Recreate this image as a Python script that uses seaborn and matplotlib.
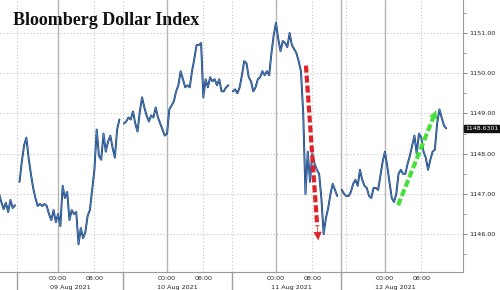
import numpy as np
import pandas as pd
import matplotlib
matplotlib.use("Agg")
import matplotlib.pyplot as plt
import matplotlib.transforms as mtransforms
import seaborn as sns

# ---------------- data ----------------
TITLE = "Bloomberg Dollar Index"
START = "2021-08-08 11:00"          # first sample, 30-minute bars
# index level, one reading per 30 minutes (NaN = gap in the feed)
values = [
    1147.0, 1146.8, 1146.62, 1146.78, 1146.55, 1146.85, 1146.65, 1146.72, np.nan, 1147.3,
    1147.8, 1148.2, 1148.4, 1147.9, 1147.5, 1147.15, 1146.9, 1146.7, 1146.75, 1146.7,
    1146.75, 1146.7, 1146.5, 1146.35, 1146.6, 1146.3, 1146.5, 1146.2, 1147.2, 1146.9,
    1147.05, 1146.35, 1146.6, 1146.5, 1146.55, 1145.75, 1146.15, 1145.9, 1146.05, 1146.45,
    1146.6, 1147.1, 1147.6, 1148.6, 1147.95, 1147.85, 1148.5, 1148.05, 1148.3, 1148.45,
    1148.15, 1147.9, 1148.6, 1148.85, np.nan, 1148.75, 1148.8, 1148.9, 1148.85, 1149.05,
    1148.75, 1148.55, 1149.05, 1149.4, 1149.15, 1148.95, 1148.8, 1148.95, 1148.9, 1149.15,
    1148.9, 1148.75, 1148.6, 1148.45, 1148.5, 1149.1, 1149.2, 1149.3, 1149.55, 1149.7,
    1150.05, 1149.85, 1149.65, 1149.7, 1149.65, 1150.05, 1150.35, 1150.7, 1150.7, 1150.75,
    1149.4, 1149.85, 1149.65, 1149.9, 1149.8, 1149.85, 1149.7, 1149.85, 1149.55, 1149.55,
    1149.65, 1149.7, np.nan, 1149.55, 1149.6, 1149.5, 1149.65, 1149.95, 1150.3, 1150.25,
    1149.9, 1149.8, 1149.55, 1149.65, 1149.85, 1149.9, 1150.05, 1149.95, 1150.05, 1149.95,
    1150.5, 1150.95, 1151.25, 1150.85, 1150.55, 1150.8, 1150.75, 1150.65, 1151.0, 1150.7,
    1150.6, 1150.5, 1150.3, 1150.05, 1149.0, 1147.0, 1148.05, 1147.3, 1148.0, 1147.75,
    1147.6, 1147.5, 1146.9, 1146.0, 1146.4, 1146.65, 1147.0, 1147.25, 1147.1, 1146.95,
    np.nan, 1147.1, 1147.0, 1146.95, 1146.95, 1147.05, 1147.25, 1147.35, 1147.2, 1147.6,
    1147.35, 1147.2, 1147.15, 1146.95, 1146.9, 1147.15, 1147.15, 1147.1, 1147.45, 1147.8,
    1148.05, 1147.7, 1147.3, 1146.9, 1146.8, 1147.0, 1147.5, 1147.6, 1147.5, 1147.5,
    1147.75, 1147.95, 1148.2, 1148.45, 1148.0, 1148.5, 1148.4, 1148.05, 1147.9, 1147.6,
    1147.85, 1148.05, 1148.1, 1148.75, 1149.1, 1148.9, 1148.7, 1148.63,
]
last_value = 1148.6301
y_ticks = [1146, 1147, 1148, 1149, 1150, 1151]
time_tick_labels = ["00:00", "08:00"]
time_tick_hours = [0, 8]                 # hour of day
day_labels = ["09 Aug 2021", "10 Aug 2021", "11 Aug 2021", "12 Aug 2021"]
day_label_hours = [2.6, 26.2, 51.5, 74.4]   # hours since 09 Aug 00:00
separator_hours = [-9.0, 14.3, 38.3, 62.3]
# annotation arrows: (hours, level) start -> end
red_arrow = [(54.6, 1150.19), (57.3, 1145.85)]
green_arrow = [(74.9, 1146.72), (83.3, 1149.08)]

# ---------------- frame ----------------
t0 = pd.Timestamp("2021-08-09 00:00")
times = pd.date_range(START, periods=len(values), freq="30min")
hours = (times - t0) / pd.Timedelta(hours=1)
df = pd.DataFrame({"hours": hours, "level": values})
df["seg"] = df["level"].isna().cumsum()
df = df.dropna()

sns.set_style("white")
plt.rcParams["font.family"] = ["DejaVu Sans"]

fig = plt.figure(figsize=(5, 2.9), dpi=100)
ax = fig.add_axes([0, 18 / 290, 463 / 500, 272 / 290])

ax.set_xlim(-12.8, 89.2)
ax.set_ylim(1145.06, 1151.82)

DOT = (0, (1.0, 2.0))
# grid
for y in y_ticks:
    ax.axhline(y, color="#c4c4c4", lw=0.8, ls=DOT, zorder=0)
for d in range(4):
    ax.axvline(24 * d, color="#b4b4b4", lw=1.0, zorder=0)
    ax.axvline(24 * d + 8, color="#c4c4c4", lw=0.8, ls=DOT, zorder=0)
for i, s in enumerate(separator_hours):
    if i < 3:
        ax.axvline(s, color="#c4c4c4", lw=0.8, ls=DOT, zorder=0)
    else:
        ax.axvline(s, color="#b4b4b4", lw=1.0, zorder=0)
        ax.axvline(s + 1.2, color="#c4c4c4", lw=0.8, ls=DOT, zorder=0)
    ax.axvline(s, ymin=-18 / 272, ymax=0, color="#a0a0a0", lw=1.0, clip_on=False)

# series
sns.lineplot(data=df, x="hours", y="level", units="seg", estimator=None,
             color="#1f3d6e", lw=1.4, ax=ax, zorder=3)
sns.lineplot(data=df, x="hours", y="level", units="seg", estimator=None,
             color="#4f8fd6", lw=0.5, ax=ax, zorder=4)

# arrows
def dashed_arrow(pts, color):
    (x0, y0), (x1, y1) = pts
    fx = x0 + (x1 - x0) * 0.92
    fy = y0 + (y1 - y0) * 0.92
    ax.plot([x0, fx], [y0, fy], color=color, lw=3.0, ls=(0, (1.7, 0.7)),
            solid_capstyle="butt", zorder=6)
    ax.annotate("", xy=(x1, y1), xytext=(fx, fy),
                arrowprops=dict(arrowstyle="-|>", color=color, lw=0.5,
                                mutation_scale=13, shrinkA=0, shrinkB=0),
                zorder=6)

dashed_arrow(red_arrow, "#e0232b")
dashed_arrow(green_arrow, "#47e03a")

# axes styling
for sp in ["left", "top"]:
    ax.spines[sp].set_visible(False)
ax.spines["right"].set_color("#9a9a9a")
ax.spines["bottom"].set_color("#9a9a9a")
ax.spines["right"].set_linewidth(0.8)
ax.spines["bottom"].set_linewidth(0.8)

ax.yaxis.tick_right()
ax.set_yticks(y_ticks)
ax.set_yticklabels([f"{v:.2f}" for v in y_ticks], fontsize=4.6, color="#222222")
ax.set_yticks([v + 0.5 for v in [1145] + y_ticks], minor=True)
ax.tick_params(axis="y", which="major", length=3, width=0.6, color="#777777", pad=1.5)
ax.tick_params(axis="y", which="minor", length=2, width=0.5, color="#777777", right=True)

xt = [24 * d + h for d in range(4) for h in time_tick_hours]
ax.set_xticks(xt)
ax.set_xticklabels([time_tick_labels[i % 2] for i in range(len(xt))],
                   fontsize=4.6, color="#222222")
ax.tick_params(axis="x", length=2, width=0.5, color="#777777", pad=1)
ax.set_xlabel("")
ax.set_ylabel("")

blend = mtransforms.blended_transform_factory(ax.transData, ax.transAxes)
for lab, h in zip(day_labels, day_label_hours):
    ax.text(h, -15.5 / 272, lab, transform=blend, ha="center", va="center",
            fontsize=4.6, color="#222222", clip_on=False)

# last value box
ax.annotate(f"{last_value:.4f}", xy=(1.0, last_value),
            xycoords=("axes fraction", "data"), xytext=(1.5, 0),
            textcoords="offset points", ha="left", va="center",
            fontsize=4.5, color="white",
            bbox=dict(boxstyle="square,pad=0.2", fc="#111111", ec="#111111"))

fig.text(13 / 500, 1 - 25 / 290, TITLE, fontsize=13, fontweight="bold",
         family=["Liberation Serif", "DejaVu Serif"], color="#111111",
         ha="left", va="baseline")

fig.savefig("out.png", dpi=100)
